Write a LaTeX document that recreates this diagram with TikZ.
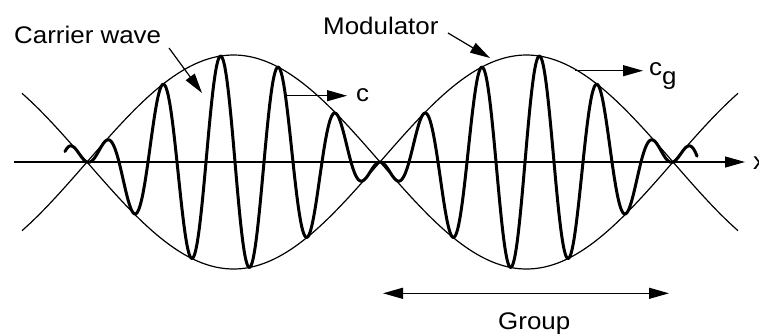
\documentclass[tikz,border=0pt]{standalone}
\usepackage{fontspec}
\setmainfont{Liberation Sans}[FakeStretch=1.08]
\usetikzlibrary{arrows.meta}
\begin{document}
\begin{tikzpicture}[x=1pt,y=-1pt,
  thinline/.style={line width=1.2pt},
  carrier/.style={line width=3pt, line join=round, line cap=round},
  tri/.style={-{Triangle[length=20pt,width=11pt]}},
  dtri/.style={{Triangle[length=20pt,width=11pt]}-{Triangle[length=20pt,width=11pt]}},
  lab/.style={inner sep=0pt, anchor=base west, font=\fontsize{24}{28}\selectfont}]
\useasboundingbox (0,0) rectangle (759,333);
% axis
\coordinate (axL) at (14,162);
\coordinate (axR) at (745,162);
\draw[thinline, tri] (axL) -- (axR);
\node[lab] (xl) at (753,169) {x};
% envelope (modulator)
\draw[thinline] plot[domain=22:738, samples=200, smooth] (\x,{162-107*sin(0.614334*(\x-87))});
\draw[thinline] plot[domain=22:738, samples=200, smooth] (\x,{162+107*sin(0.614334*(\x-87))});
% carrier
\draw[carrier] plot[domain=65:697, samples=700, smooth] (\x,{162-107*sin(0.614334*(\x-87))*sin(6.206897*(\x-380))});
% labels
\node[lab] (cw) at (14,43) {Carrier wave};
\node[lab] (mod) at (323,34) {Modulator};
\node[lab] (c) at (356,101.5) {c};
\node[lab] (cg) at (649,75) {c\raisebox{-9.5pt}{g}};
\node[lab] (grp) at (498,329) {Group};
% arrows
\coordinate (cwA) at (169,48);
\coordinate (cwB) at (202,93);
\draw[thinline, tri] (cwA) -- (cwB);
\coordinate (mA) at (448,33);
\coordinate (mB) at (490,58);
\draw[thinline, tri] (mA) -- (mB);
\coordinate (cA) at (285,95.7);
\coordinate (cB) at (347,95.7);
\draw[thinline, tri] (cA) -- (cB);
\coordinate (gA) at (575,70.7);
\coordinate (gB) at (643,70.7);
\draw[thinline, tri] (gA) -- (gB);
\coordinate (gL) at (383,293.3);
\coordinate (gR) at (669,293.3);
\draw[thinline, dtri] (gL) -- (gR);
\end{tikzpicture}
\end{document}
